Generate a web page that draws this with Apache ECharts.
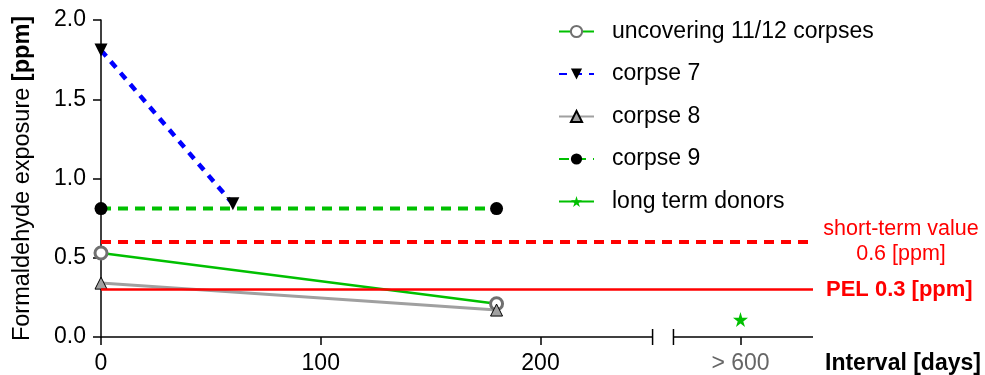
<!DOCTYPE html>
<html>
<head>
<meta charset="utf-8">
<script src="https://cdn.jsdelivr.net/npm/echarts@6/dist/echarts.min.js"></script>
<style>
  html, body { margin: 0; padding: 0; background: #fff; }
  #chart { width: 985px; height: 375px; }
</style>
</head>
<body>
<div id="chart"></div>
<script>
// 数据
const uncoveringX = [0, 180];
const uncoveringY = [0.53, 0.21];
const corpse7X = [0, 60];
const corpse7Y = [1.81, 0.84];
const corpse8X = [0, 180];
const corpse8Y = [0.34, 0.17];
const corpse9X = [0, 180];
const corpse9Y = [0.81, 0.81];
const donorsX = [291];      // position of the ">600" tick
const donorsY = [0.11];

const shortTermLimit = 0.6;
const pelLimit = 0.3;

const xTicks = [0, 100, 200, 291];
const xTickLabels = ['0', '100', '200', '> 600'];

// axis break (in axis units)
const breakStart = 251;
const breakEnd = 260.5;
const xMax = 324;

const FONT = 'Liberation Sans, Arial, sans-serif';

function pairs(xs, ys) {
  return xs.map((x, i) => [x, ys[i]]);
}

const chart = echarts.init(document.getElementById('chart'));

const option = {
  animation: false,
  textStyle: { fontFamily: FONT },
  grid: { left: 101, right: 172, top: 20, bottom: 38 },
  legend: {
    orient: 'vertical',
    left: 553,
    top: 15,
    itemWidth: 35,
    itemHeight: 14,
    itemGap: 19.5,
    textStyle: { fontSize: 23, color: '#000', fontFamily: FONT, padding: [0, 0, 0, 13] },
    data: ['uncovering 11/12 corpses', 'corpse 7', 'corpse 8', 'corpse 9', 'long term donors']
  },
  xAxis: {
    type: 'value',
    min: 0,
    max: xMax,
    splitLine: { show: false },
    axisLine: { show: false },
    axisTick: {
      show: true,
      length: 8,
      customValues: xTicks,
      lineStyle: { color: '#000', width: 1.5 }
    },
    axisLabel: {
      customValues: xTicks,
      fontSize: 23,
      color: '#000',
      margin: 15,
      formatter: function (v) {
        const i = xTicks.indexOf(v);
        if (i === 3) return '{g|' + xTickLabels[i] + '}';
        return i >= 0 ? xTickLabels[i] : '';
      },
      rich: { g: { color: '#666', fontSize: 23, fontFamily: FONT } }
    },
    name: 'Interval [days]',
    nameLocation: 'end',
    nameGap: 12,
    nameTextStyle: {
      fontSize: 23, fontWeight: 'bold', color: '#000',
      verticalAlign: 'top', padding: [15, 0, 0, 0]
    }
  },
  yAxis: {
    type: 'value',
    min: 0,
    max: 2,
    interval: 0.5,
    splitLine: { show: false },
    axisLine: { show: true, lineStyle: { color: '#000', width: 1.5 } },
    axisTick: { show: true, length: 8, lineStyle: { color: '#000', width: 1.5 } },
    axisLabel: {
      fontSize: 23, color: '#000', margin: 15,
      formatter: v => v.toFixed(1)
    },
    name: '{n|Formaldehyde exposure }{b|[ppm]}',
    nameLocation: 'middle',
    nameGap: 66,
    nameTextStyle: {
      rich: {
        n: { fontSize: 23.5, color: '#000', fontFamily: FONT },
        b: { fontSize: 23.5, color: '#000', fontWeight: 'bold', fontFamily: FONT }
      }
    }
  },
  series: [
    {
      name: 'limits',
      type: 'line',
      data: [],
      silent: true,
      z: 1,
      markLine: {
        silent: true,
        symbol: 'none',
        data: [
          {
            yAxis: shortTermLimit,
            lineStyle: { color: '#ff0000', width: 4, type: [10, 7] },
            label: {
              show: true, position: 'end', distance: 88, align: 'center',
              formatter: 'short-term value\n0.6 [ppm]',
              color: '#ff0000', fontSize: 21.5, lineHeight: 25, fontFamily: FONT
            }
          },
          {
            yAxis: pelLimit,
            lineStyle: { color: '#ff0000', width: 2.5, type: 'solid' },
            label: {
              show: true, position: 'end', distance: 13,
              formatter: 'PEL 0.3 [ppm]',
              color: '#ff0000', fontSize: 22, fontWeight: 'bold', fontFamily: FONT,
              padding: [8, 0, 0, 0]
            }
          }
        ]
      }
    },
    {
      name: 'uncovering 11/12 corpses',
      type: 'line',
      data: pairs(uncoveringX, uncoveringY),
      clip: false,
      z: 3,
      lineStyle: { color: '#00c000', width: 2.5 },
      symbol: 'circle',
      symbolSize: 12,
      itemStyle: { color: '#fff', borderColor: '#707070', borderWidth: 3 }
    },
    {
      name: 'corpse 7',
      type: 'line',
      data: pairs(corpse7X, corpse7Y),
      clip: false,
      z: 3,
      lineStyle: { color: '#0000ff', width: 4.5, type: [8, 7] },
      symbol: 'triangle',
      symbolRotate: 180,
      symbolSize: 13,
      itemStyle: { color: '#000' }
    },
    {
      name: 'corpse 8',
      type: 'line',
      data: pairs(corpse8X, corpse8Y),
      clip: false,
      z: 3,
      lineStyle: { color: '#a0a0a0', width: 3 },
      symbol: 'triangle',
      symbolSize: 12,
      itemStyle: { color: '#a0a0a0', borderColor: '#000', borderWidth: 1 }
    },
    {
      name: 'corpse 9',
      type: 'line',
      data: pairs(corpse9X, corpse9Y),
      clip: false,
      z: 3,
      lineStyle: { color: '#00c000', width: 4, type: [10, 7] },
      symbol: 'circle',
      symbolSize: 13,
      itemStyle: { color: '#000' }
    },
    {
      name: 'long term donors',
      type: 'line',
      data: pairs(donorsX, donorsY),
      clip: false,
      z: 3,
      lineStyle: { color: '#00c000', width: 1.5 },
      symbol: 'path://M50,0 L61,35 L98,35 L68,57 L79,91 L50,70 L21,91 L32,57 L2,35 L39,35 Z',
      symbolSize: 15,
      itemStyle: { color: '#00c000' }
    }
  ]
};

chart.setOption(option);

// x轴断开画法
function px(x, y) {
  return chart.convertToPixel({ gridIndex: 0 }, [x, y]);
}
const a = px(0, 0), b = px(breakStart, 0), c = px(breakEnd, 0), d = px(xMax, 0);
const axisStyle = { stroke: '#000', lineWidth: 1.5 };
chart.setOption({
  graphic: [
    { type: 'line', shape: { x1: a[0], y1: a[1], x2: b[0], y2: b[1] }, style: axisStyle, z: 10 },
    { type: 'line', shape: { x1: c[0], y1: c[1], x2: d[0], y2: d[1] }, style: axisStyle, z: 10 },
    { type: 'line', shape: { x1: b[0], y1: b[1] - 8, x2: b[0], y2: b[1] + 8 }, style: axisStyle, z: 10 },
    { type: 'line', shape: { x1: c[0], y1: c[1] - 8, x2: c[0], y2: c[1] + 8 }, style: axisStyle, z: 10 }
  ]
});
</script>
</body>
</html>
